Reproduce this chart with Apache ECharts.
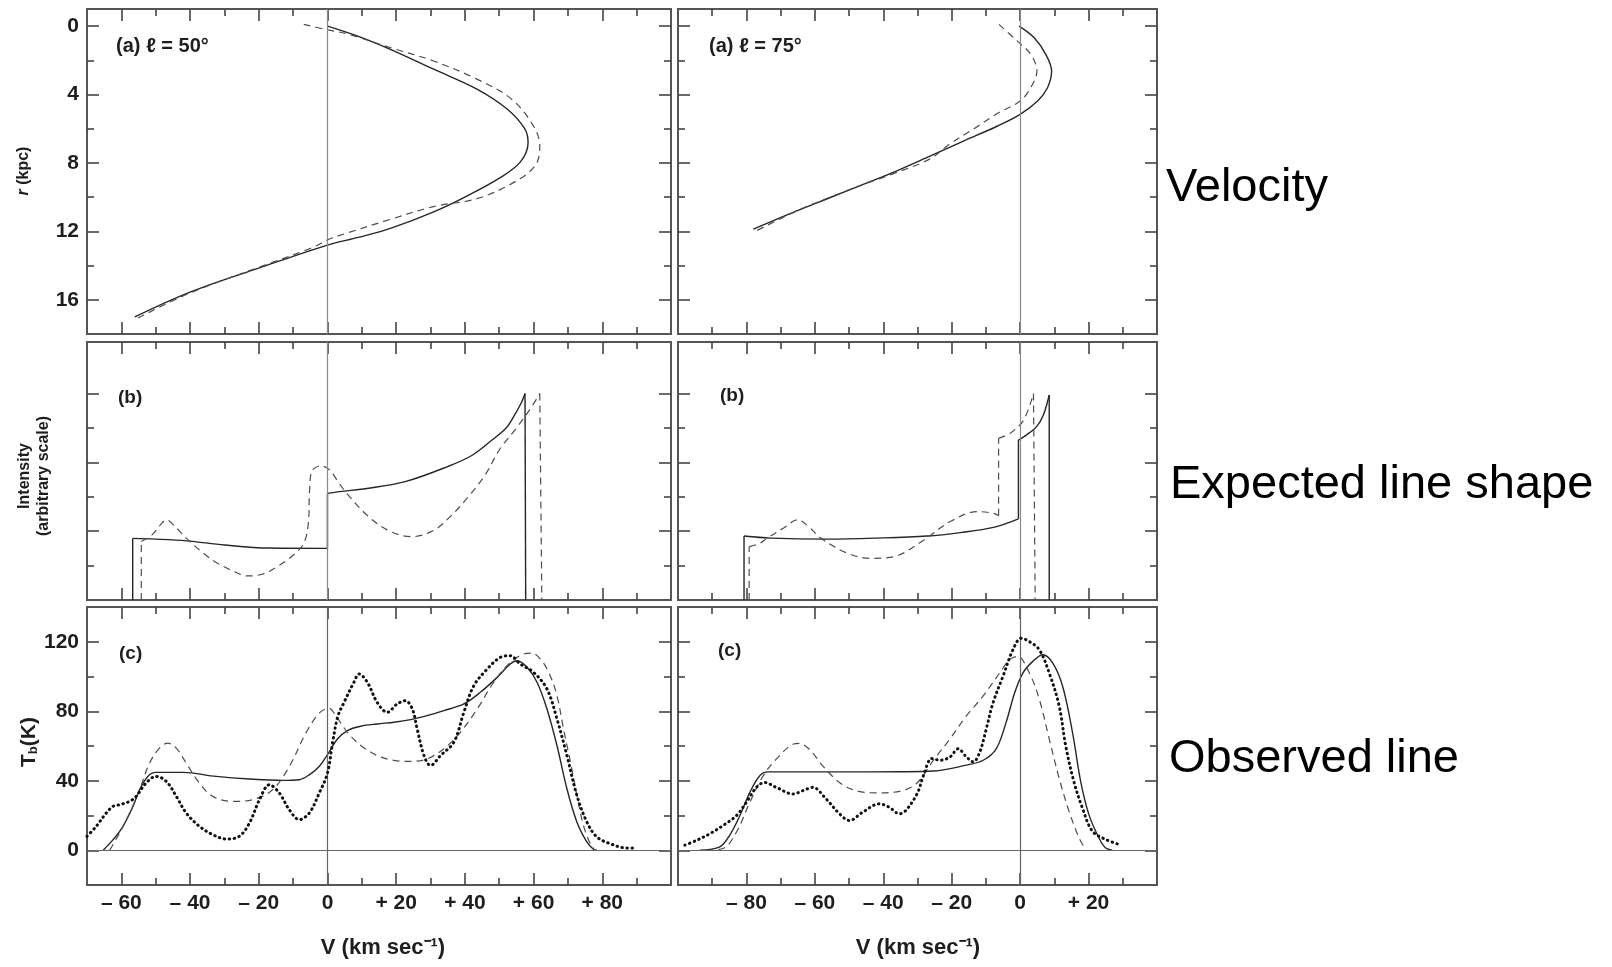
<!DOCTYPE html>
<html><head><meta charset="utf-8">
<script src="https://cdn.jsdelivr.net/npm/echarts@6/dist/echarts.min.js"></script>
<style>html,body{margin:0;padding:0;background:#fff;}#c{width:1612px;height:967px;}</style>
</head><body><div id="c"></div>
<script>
// ---------- axis ranges and tick values ----------
const xRangeL = [-70, 100];
const xRangeR = [-100, 40];
const xMajorL = [-60, -40, -20, 0, 20, 40, 60, 80];
const xMinorL = [-50, -30, -10, 10, 30, 50, 70, 90];
const xMajorR = [-80, -60, -40, -20, 0, 20];
const xMinorR = [-90, -70, -50, -30, -10, 10, 30];
const rRange = [-1, 18];
const rMajor = [0, 4, 8, 12, 16];
const rMinor = [2, 6, 10, 14];
const iRange = [0, 7.5];
const iMajor = [2, 4, 6];
const iMinor = [1, 3, 5];
const tRange = [-20, 140];
const tMajor = [0, 40, 80, 120];
const tMinor = [20, 60, 100];

// ---------- (a) velocity vs distance: [V, r] ----------
const velL_solid = [[0,0],[9,0.6],[18.3,1.36],[30.9,2.52],[43.5,3.68],[52.3,4.85],[57.4,6.0],[58.4,6.8],[56.1,7.95],[49.8,8.92],[41.0,9.89],[30.9,10.86],[18.3,11.83],[9,12.35],[0,12.8],[-20,14.15],[-40,15.55],[-56.1,17.0]];
const velL_dashed = [[-6.9,-0.1],[0,0.22],[5.7,0.45],[18.3,1.26],[30.9,2.04],[43.5,3.1],[53.6,4.27],[59.9,5.82],[61.8,6.98],[60.5,8.15],[53.6,9.21],[43.5,10.09],[30.9,10.55],[18.3,11.3],[5.7,12.1],[0,12.5],[-4.4,12.95],[-20,14.1],[-40,15.6],[-55.5,17.1]];
const velR_solid = [[-0.3,0],[4.1,0.68],[7.5,1.65],[9.2,2.63],[8.0,3.6],[5.1,4.38],[0,5.16],[-6.6,5.84],[-16.4,6.71],[-26.2,7.59],[-36,8.46],[-45.7,9.24],[-55.5,10.02],[-65.3,10.8],[-78,11.87]];
const velR_dashed = [[-6.2,-0.1],[-0.8,0.88],[3.1,1.65],[4.9,2.63],[3.1,3.6],[0,4.38],[-6.6,5.1],[-13.5,6.0],[-21,6.95],[-26.2,7.75],[-36,8.55],[-45.7,9.25],[-55.5,10.0],[-65.3,10.8],[-77,11.96]];

// ---------- (b) expected line shape: [V, intensity]; null separates pieces ----------
const intL_solid = [[-56.7,0],[-56.7,1.79],null,
  [-56.7,1.79],[-50,1.77],[-41,1.72],[-30,1.6],[-17,1.51],[0,1.5],null,
  [0,1.5],[0,3.1],null,
  [0,3.1],[3.6,3.15],[12,3.25],[22.6,3.44],[35,3.88],[42,4.2],[47.9,4.65],[52,5.0],[54.2,5.33],[56.5,5.75],[57.5,6.0],null,
  [57.5,6.0],[57.7,0]];
const intL_dashed = [[-54.2,0],[-54.2,1.7],null,
  [-54.2,1.7],[-51,1.9],[-48.5,2.2],[-46.9,2.33],[-45,2.2],[-41,1.79],[-36,1.35],[-32,1.07],[-27,0.82],[-23.4,0.7],[-19,0.75],[-14.6,0.97],[-10,1.3],[-6.9,1.65],[-5.6,2.2],[-5.2,3.2],[-4.5,3.75],[-2,3.9],[0.6,3.78],[3,3.45],[5.6,3.1],[12,2.42],[18.3,1.99],[24.6,1.84],[31,2.03],[36,2.45],[41,3.0],[46,3.65],[50,4.36],[55,5.0],[58.8,5.52],[61.8,6.0],null,
  [61.8,6.0],[62.4,0]];
const intR_solid = [[-80.7,0],[-80.7,1.86],null,
  [-80.7,1.86],[-72.9,1.8],[-56.4,1.77],[-41.8,1.8],[-27.2,1.86],[-17.5,1.96],[-7.8,2.11],[-0.5,2.36],null,
  [-0.5,2.36],[-0.5,4.65],null,
  [-0.5,4.65],[1.9,4.8],[4.8,5.04],[6.8,5.38],[8.5,5.96],null,
  [8.5,5.96],[8.5,0]];
const intR_dashed = [[-79.2,0],[-79.2,1.55],null,
  [-79.2,1.55],[-76,1.65],[-73.9,1.8],[-69,2.1],[-65.1,2.33],[-62,2.15],[-58.3,1.8],[-50.5,1.36],[-43.7,1.21],[-36.9,1.26],[-28.2,1.74],[-20.4,2.28],[-12.6,2.57],[-7.8,2.52],[-6.3,2.45],null,
  [-6.3,2.45],[-6.3,4.7],null,
  [-6.3,4.7],[-2.9,4.85],[1.0,5.23],[3.9,6.0],null,
  [3.9,6.0],[4.4,0]];

// ---------- (c) observed line: [V, Tb] ----------
const tbL_solid = [[-65.3,0],[-62.4,6.1],[-59.5,13.8],[-56.6,25.3],[-54.7,34.8],[-52.3,42.5],[-49.9,44.8],[-42.1,44.8],[-32.4,42.5],[-22.7,41],[-13.1,40.2],[-8.2,40.6],[-5.3,43.4],[-2.4,48.2],[0,55],[2.9,64],[5.8,68.9],[9.7,71.4],[14.5,72.7],[19.4,73.7],[24.2,75.2],[29,77.5],[33.9,80.4],[39.7,84.2],[44.5,90.9],[49.4,99.5],[53.2,107.2],[55.2,109.1],[58.1,105.3],[61,96.7],[63.9,81.3],[66.8,60.3],[69.7,35.4],[72.6,16.3],[75.5,4.8],[77.4,0.6],[78.4,0]];
const tbL_dashed = [[-63.4,0],[-60.5,10],[-57.6,21.4],[-54.7,34.8],[-51.8,50.1],[-48.9,58.8],[-46.5,61.6],[-44,58.8],[-41.1,50.1],[-37.3,38.7],[-33.4,31],[-27.6,28.1],[-21.8,29.1],[-16,34.8],[-11.1,48.2],[-6.3,67.4],[-2.4,78.9],[0.5,81.7],[1.9,79],[5.8,67.9],[9.7,60.3],[14.5,54.5],[19.4,51.7],[24.2,51.1],[29,52.6],[33.9,58.4],[38.7,67.9],[43.6,81.3],[48.4,96.7],[53.2,108.1],[57.1,112.9],[59.5,113.5],[62,110],[64.5,102],[66.8,89],[68.7,70],[70.7,51],[72.6,31.6],[74.5,14.4],[76.5,3.8],[77.9,0]];
const tbL_dotted = [[-70,8],[-67.3,13.8],[-64.4,21.4],[-62.4,25.3],[-60.5,26.2],[-57.6,28.1],[-55.7,31],[-52.8,38.7],[-49.9,42.5],[-46.9,39.6],[-44,31],[-41.1,21.4],[-37.3,13.8],[-33.4,9],[-29.5,6.5],[-25.7,8],[-22.7,15.7],[-19.8,29.1],[-16.9,37.7],[-14,32.9],[-11.1,23.3],[-8.2,17.6],[-5.3,21.4],[-2.4,32.9],[0,44.4],[1.5,62],[3,77],[4.8,85],[7.7,96.7],[9.2,101.5],[11.6,96.7],[14.5,85],[17.4,79.4],[20.3,84.2],[22.7,86.1],[24.7,81.3],[26.1,69.9],[28.1,54.5],[30,48.8],[32.9,54.5],[36.8,62.2],[39.7,79.4],[42.6,94.7],[46.5,104.3],[50.3,111],[53.2,112],[56.1,107.2],[60,102.4],[63.9,92.8],[66.8,75.6],[69.7,54.5],[72.6,31.6],[75.5,16.3],[78.4,7.7],[82.3,3.8],[87.1,1.3],[89.1,1.3]];
const tbR_solid = [[-93.6,0],[-87.8,1.9],[-84.9,8.6],[-81.9,20],[-79,33.3],[-76.1,42.9],[-73.7,45.1],[-53.8,45.1],[-35,45.2],[-25.3,45.6],[-15.7,49],[-10.8,51.8],[-7,58.4],[-4.1,73.6],[-1.6,90.7],[0.8,102],[3.7,108.7],[6.6,112.5],[9.5,107.8],[12.4,94.5],[15.3,67.9],[17.7,39.5],[20.1,20.5],[23,7.2],[24.9,1.5],[26.9,0]];
const tbR_dashed = [[-91.7,0],[-86.8,1],[-82.9,10.5],[-79,27.6],[-75.1,42.9],[-71.3,52.4],[-66.4,61],[-64.5,61.5],[-61.6,58.1],[-57.7,48.6],[-52.8,39],[-48,34.3],[-42.1,33],[-34.4,34.3],[-30,39],[-25.3,52],[-20.5,64.1],[-15.7,77.4],[-10.8,88.8],[-6,102],[-3.1,109.7],[-0.7,111.6],[2.7,102],[5.6,86.9],[8.5,64.1],[11.4,41.4],[14.3,22.4],[17.2,7.2],[19.1,0.6]];
const tbR_dotted = [[-98,2.9],[-94.6,5.7],[-90.7,9.5],[-86.8,14.3],[-82.9,20],[-80,27.6],[-77.1,36.2],[-74.7,39],[-71.3,36.2],[-66.4,32.4],[-63.5,34.3],[-60.6,36.2],[-56.7,29.5],[-52.8,21],[-49.9,17.1],[-46,21.9],[-41.2,26.7],[-38.3,24.8],[-35.3,21],[-33.4,22.9],[-30,33],[-28.2,43.3],[-25.8,52.8],[-23.4,51.8],[-20.5,53.7],[-18.1,58.4],[-15.7,53.7],[-13.7,50.9],[-11.8,56.5],[-9.9,69.8],[-7.9,85],[-5,100.2],[-2.1,115.4],[0.3,122],[2.7,120.1],[5.6,115.4],[8.5,102],[11.4,83.1],[13.3,60.3],[15.7,39.5],[18.2,24.3],[21.1,11],[24.9,6.3],[28.8,3.4]];

// ---------- text ----------
const panelTags = ['(a) ℓ = 50°', '(a) ℓ = 75°', '(b)', '(b)', '(c)', '(c)'];
const rowLabels = ['Velocity', 'Expected line shape', 'Observed line'];

// ---------- layout ----------
const FONT = "'Liberation Sans', Arial, Helvetica, sans-serif";
const grids = [
  {left: 87, top: 9, width: 584, height: 325},
  {left: 678, top: 9, width: 479, height: 325},
  {left: 87, top: 342, width: 584, height: 258},
  {left: 678, top: 342, width: 479, height: 258},
  {left: 87, top: 607, width: 584, height: 278},
  {left: 678, top: 607, width: 479, height: 278}
].map(g => Object.assign(g, {show: true, borderColor: '#555', borderWidth: 2, backgroundColor: 'transparent'}));

const xFmt = v => v === 0 ? '0' : (v < 0 ? '– ' + Math.abs(v) : '+ ' + v);
const labelStyle = {color: '#1e1e1e', fontSize: 21, fontWeight: 'bold', fontFamily: FONT};

function axis(gi, position, range, ticks, len, label, inverse) {
  return {
    type: 'value', gridIndex: gi, position: position, min: range[0], max: range[1],
    inverse: !!inverse,
    axisLine: {show: false, onZero: false}, splitLine: {show: false},
    axisTick: {show: true, inside: true, length: len, customValues: ticks, lineStyle: {color: '#444', width: 1.6}},
    axisLabel: label ? Object.assign({show: true, customValues: ticks, formatter: label, margin: 8}, labelStyle) : {show: false}
  };
}

const panels = [
  {xr: xRangeL, xM: xMajorL, xm: xMinorL, yr: rRange, yM: rMajor, ym: rMinor, xl: false, yl: true, inv: true},
  {xr: xRangeR, xM: xMajorR, xm: xMinorR, yr: rRange, yM: rMajor, ym: rMinor, xl: false, yl: false, inv: true},
  {xr: xRangeL, xM: xMajorL, xm: xMinorL, yr: iRange, yM: iMajor, ym: iMinor, xl: false, yl: false},
  {xr: xRangeR, xM: xMajorR, xm: xMinorR, yr: iRange, yM: iMajor, ym: iMinor, xl: false, yl: false},
  {xr: xRangeL, xM: xMajorL, xm: xMinorL, yr: tRange, yM: tMajor, ym: tMinor, xl: true, yl: true},
  {xr: xRangeR, xM: xMajorR, xm: xMinorR, yr: tRange, yM: tMajor, ym: tMinor, xl: true, yl: false}
];
const xAxes = [], yAxes = [];
panels.forEach((p, gi) => {
  xAxes.push(axis(gi, 'bottom', p.xr, p.xM, 12, p.xl ? xFmt : null));
  xAxes.push(axis(gi, 'bottom', p.xr, p.xm, 7, null));
  xAxes.push(axis(gi, 'top', p.xr, p.xM, 12, null));
  xAxes.push(axis(gi, 'top', p.xr, p.xm, 7, null));
  yAxes.push(axis(gi, 'left', p.yr, p.yM, 12, p.yl ? (v => String(v)) : null, p.inv));
  yAxes.push(axis(gi, 'left', p.yr, p.ym, 7, null, p.inv));
  yAxes.push(axis(gi, 'right', p.yr, p.yM, 12, null, p.inv));
  yAxes.push(axis(gi, 'right', p.yr, p.ym, 7, null, p.inv));
});

const STY = {
  solid: {color: '#262626', width: 1.4, type: 'solid'},
  dashed: {color: '#4d4d4d', width: 1.2, type: [7, 5]},
  dotted: {color: '#111', width: 3, type: [0.5, 4.5], cap: 'round'}
};
const series = [];
function split(arr) {
  const out = []; let cur = [];
  arr.forEach(p => { if (p === null) { if (cur.length) out.push(cur); cur = []; } else cur.push(p); });
  if (cur.length) out.push(cur);
  return out;
}
function curve(gi, data, sty, z) {
  split(data).forEach(piece => {
    series.push({
      type: 'line', xAxisIndex: gi * 4, yAxisIndex: gi * 4, data: piece,
      smooth: piece.length > 2 ? 0.35 : false, symbol: 'none', showSymbol: false,
      lineStyle: Object.assign({}, STY[sty]), z: z || 3, silent: true, animation: false
    });
  });
}
// reference lines V = 0 (all panels) and Tb = 0 (bottom panels)
const zeroV = [0], zeroT = [0];
panels.forEach((p, gi) => {
  const ml = zeroV.map(v => ({xAxis: v}));
  if (gi >= 4) zeroT.forEach(v => ml.push({yAxis: v}));
  series.push({
    type: 'line', xAxisIndex: gi * 4, yAxisIndex: gi * 4, data: [], symbol: 'none', silent: true, animation: false,
    markLine: {symbol: 'none', silent: true, animation: false, label: {show: false},
      lineStyle: {color: gi >= 4 ? '#666' : '#8a8a8a', width: 1.2, type: 'solid'}, data: ml}
  });
});
curve(0, velL_solid, 'solid'); curve(0, velL_dashed, 'dashed');
curve(1, velR_solid, 'solid'); curve(1, velR_dashed, 'dashed');
curve(2, intL_solid, 'solid'); curve(2, intL_dashed, 'dashed');
curve(3, intR_solid, 'solid'); curve(3, intR_dashed, 'dashed');
curve(4, tbL_solid, 'solid'); curve(4, tbL_dashed, 'dashed'); curve(4, tbL_dotted, 'dotted', 5);
curve(5, tbR_solid, 'solid'); curve(5, tbR_dashed, 'dashed'); curve(5, tbR_dotted, 'dotted', 5);

// ---------- text elements ----------
const tagPos = [[116, 46], [709, 46], [118, 398], [720, 396], [119, 654], [718, 651]];
const tagSize = [20, 20, 19, 19, 19, 19];
const graphic = [];
panelTags.forEach((t, i) => graphic.push({type: 'text', x: tagPos[i][0], y: tagPos[i][1],
  style: {text: t, fontSize: tagSize[i], fontWeight: 'bold', fontFamily: FONT, fill: '#1e1e1e', align: 'left', verticalAlign: 'middle'}}));
const rowPos = [[1166, 188], [1170, 485], [1169, 759]];
rowLabels.forEach((t, i) => graphic.push({type: 'text', x: rowPos[i][0], y: rowPos[i][1],
  style: {text: t, fontSize: 47, fontFamily: FONT, fill: '#000', align: 'left', verticalAlign: 'middle'}}));
const nameStyle = {fontFamily: FONT, fontWeight: 'bold', fill: '#1e1e1e', align: 'center', verticalAlign: 'middle'};
graphic.push({type: 'text', x: 24, y: 171, rotation: Math.PI / 2,
  style: Object.assign({text: '{i|r} (kpc)', fontSize: 16, rich: {i: {fontStyle: 'italic', fontSize: 16, fontWeight: 'bold', fontFamily: FONT}}}, nameStyle)});
graphic.push({type: 'text', x: 25, y: 476, rotation: Math.PI / 2, style: Object.assign({text: 'Intensity', fontSize: 16}, nameStyle)});
graphic.push({type: 'text', x: 44, y: 476, rotation: Math.PI / 2, style: Object.assign({text: '(arbitrary scale)', fontSize: 16}, nameStyle)});
graphic.push({type: 'text', x: 29, y: 742, rotation: Math.PI / 2,
  style: Object.assign({text: '{t|T}{s|b}{t|(K)}', fontSize: 21,
    rich: {t: {fontSize: 21, fontWeight: 'bold', fontFamily: FONT}, s: {fontSize: 13, fontWeight: 'bold', fontFamily: FONT, verticalAlign: 'bottom', padding: [8, 0, 0, 0]}}}, nameStyle)});
[383, 918].forEach(x => graphic.push({type: 'text', x: x, y: 948,
  style: Object.assign({text: 'V (km sec⁻¹)', fontSize: 22}, nameStyle)}));

const chart = echarts.init(document.getElementById('c'), null, {renderer: 'canvas'});
chart.setOption({
  animation: false, backgroundColor: '#fff',
  grid: grids, xAxis: xAxes, yAxis: yAxes, series: series, graphic: graphic
});
</script></body></html>
